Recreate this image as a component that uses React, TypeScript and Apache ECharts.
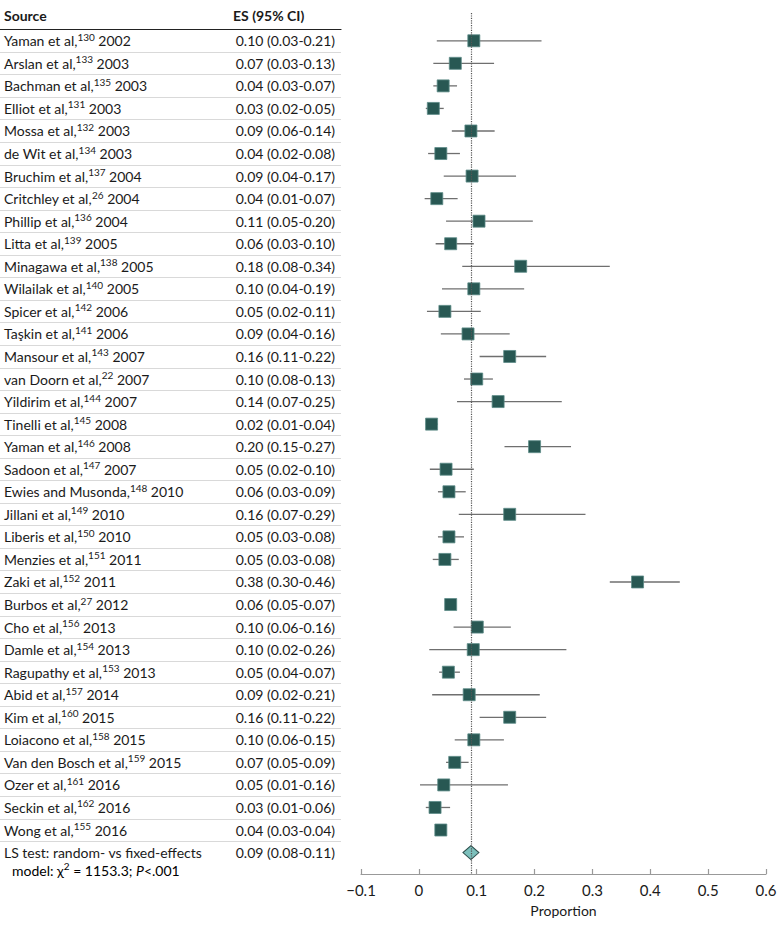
import React, { useEffect, useRef } from "react";
import * as echarts from "echarts";

const FONT = "Lato";

const authors = [
  "Yaman et al", "Arslan et al", "Bachman et al", "Elliot et al", "Mossa et al", "de Wit et al",
  "Bruchim et al", "Critchley et al", "Phillip et al", "Litta et al", "Minagawa et al", "Wilailak et al",
  "Spicer et al", "Taşkin et al", "Mansour et al", "van Doorn et al", "Yildirim et al", "Tinelli et al",
  "Yaman et al", "Sadoon et al", "Ewies and Musonda", "Jillani et al", "Liberis et al", "Menzies et al",
  "Zaki et al", "Burbos et al", "Cho et al", "Damle et al", "Ragupathy et al", "Abid et al",
  "Kim et al", "Loiacono et al", "Van den Bosch et al", "Ozer et al", "Seckin et al", "Wong et al",
];
const refs = [
  130, 133, 135, 131, 132, 134, 137, 26, 136, 139, 138, 140, 142, 141, 143, 22, 144, 145,
  146, 147, 148, 149, 150, 151, 152, 27, 156, 154, 153, 157, 160, 158, 159, 161, 162, 155,
];
const years = [
  2002, 2003, 2003, 2003, 2003, 2003, 2004, 2004, 2004, 2005, 2005, 2005, 2006, 2006, 2007, 2007, 2007, 2008,
  2008, 2007, 2010, 2010, 2010, 2011, 2011, 2012, 2013, 2013, 2013, 2014, 2015, 2015, 2015, 2016, 2016, 2016,
];
// printed effect sizes (ES column)
const esPrinted = [
  0.10, 0.07, 0.04, 0.03, 0.09, 0.04, 0.09, 0.04, 0.11, 0.06, 0.18, 0.10, 0.05, 0.09, 0.16, 0.10, 0.14, 0.02,
  0.20, 0.05, 0.06, 0.16, 0.05, 0.05, 0.38, 0.06, 0.10, 0.10, 0.05, 0.09, 0.16, 0.10, 0.07, 0.05, 0.03, 0.04,
];
const loPrinted = [
  0.03, 0.03, 0.03, 0.02, 0.06, 0.02, 0.04, 0.01, 0.05, 0.03, 0.08, 0.04, 0.02, 0.04, 0.11, 0.08, 0.07, 0.01,
  0.15, 0.02, 0.03, 0.07, 0.03, 0.03, 0.30, 0.05, 0.06, 0.02, 0.04, 0.02, 0.11, 0.06, 0.05, 0.01, 0.01, 0.03,
];
const hiPrinted = [
  0.21, 0.13, 0.07, 0.05, 0.14, 0.08, 0.17, 0.07, 0.20, 0.10, 0.34, 0.19, 0.11, 0.16, 0.22, 0.13, 0.25, 0.04,
  0.27, 0.10, 0.09, 0.29, 0.08, 0.08, 0.46, 0.07, 0.16, 0.26, 0.07, 0.21, 0.22, 0.15, 0.09, 0.16, 0.06, 0.04,
];
// plotted values
const pointEst = [
  0.095, 0.063, 0.042, 0.025, 0.09, 0.038, 0.092, 0.031, 0.104, 0.055, 0.176, 0.095, 0.045, 0.085, 0.157, 0.10, 0.137, 0.022,
  0.20, 0.047, 0.052, 0.157, 0.052, 0.045, 0.378, 0.055, 0.101, 0.094, 0.051, 0.087, 0.157, 0.095, 0.062, 0.043, 0.028, 0.038,
];
const ciLow = [
  0.031, 0.025, 0.025, 0.012, 0.057, 0.016, 0.043, 0.01, 0.047, 0.029, 0.075, 0.04, 0.014, 0.038, 0.105, 0.078, 0.066, 0.012,
  0.148, 0.019, 0.033, 0.069, 0.033, 0.024, 0.33, 0.05, 0.06, 0.018, 0.035, 0.023, 0.105, 0.062, 0.047, 0.002, 0.012, 0.03,
];
const ciHigh = [
  0.212, 0.13, 0.066, 0.043, 0.131, 0.071, 0.168, 0.067, 0.197, 0.095, 0.33, 0.182, 0.107, 0.157, 0.22, 0.128, 0.247, 0.033,
  0.263, 0.095, 0.081, 0.288, 0.078, 0.069, 0.451, 0.06, 0.159, 0.255, 0.071, 0.209, 0.22, 0.147, 0.086, 0.154, 0.054, 0.043,
];
const summaryLabel = "LS test: random- vs fixed-effects";
const summaryES = 0.09;
const summaryLo = 0.08;
const summaryHi = 0.11;
const xMin = -0.1;
const xMax = 0.6;
const xStep = 0.1;

const fmtES = (e: number, l: number, h: number) => `${e.toFixed(2)} (${l.toFixed(2)}-${h.toFixed(2)})`;

export default function App() {
  const ref = useRef<HTMLDivElement>(null);
  useEffect(() => {
    document.body.style.margin = "0";
    const chart = echarts.init(ref.current!, null, { renderer: "svg" });
    const n = authors.length;
    const cats = [...authors.map((_, i) => "r" + i), "summary"];
    const rowH = 22.55;
    const tableTop = 29.5;
    const plotTop = 13;
    const plotBottomPx = 874;
    const yMin = (plotTop - tableTop) / rowH - 0.5;
    const yMax = (plotBottomPx - tableTop) / rowH - 0.5;
    const textColor = "#1a1a1a";
    const rich = {
      n: { fontSize: 14, lineHeight: 18, color: textColor, fontFamily: FONT },
      s: { fontSize: 10, lineHeight: 9, verticalAlign: "top", color: textColor, fontFamily: FONT },
      i: { fontSize: 14, lineHeight: 18, color: textColor, fontFamily: FONT, fontStyle: "italic" },
    };

    const option: any = {
      animation: false,
      backgroundColor: "#fff",
      textStyle: { fontFamily: FONT },
      grid: [
        { left: 361, right: 14, top: plotTop, bottom: 928 - plotBottomPx },
        { left: 0, width: 341, top: tableTop, height: rowH * (n + 1) },
      ],
      xAxis: [
        {
          gridIndex: 0,
          type: "value",
          min: xMin,
          max: xMax,
          interval: xStep,
          position: "bottom",
          axisLine: { show: true, onZero: false, lineStyle: { color: "#999", width: 1.2 } },
          axisTick: { show: true, inside: true, length: 5, lineStyle: { color: "#999", width: 1.2 } },
          splitLine: { show: false },
          axisLabel: {
            color: textColor,
            fontSize: 15,
            fontFamily: FONT,
            margin: 8,
            formatter: (v: number) => {
              const r = Math.round(v * 10) / 10;
              if (r === 0) return "0";
              return (r < 0 ? "\u2212" : "") + Math.abs(r).toFixed(1);
            },
          },
          name: "Proportion",
          nameLocation: "middle",
          nameGap: 29,
          nameTextStyle: { color: textColor, fontSize: 14, fontFamily: FONT },
        },
        {
          gridIndex: 1,
          type: "value",
          min: 0,
          max: 1,
          position: "top",
          axisLine: { show: true, onZero: false, lineStyle: { color: "#222", width: 1.2 } },
          axisTick: { show: false },
          axisLabel: { show: false },
          splitLine: { show: false },
        },
      ],
      yAxis: [
        { gridIndex: 0, type: "value", min: yMin, max: yMax, inverse: true, show: false },
        {
          gridIndex: 1,
          type: "category",
          data: cats,
          inverse: true,
          position: "left",
          axisLine: { show: false },
          axisTick: { show: false },
          axisLabel: {
            inside: true,
            margin: 4,
            interval: 0,
            rich,
            formatter: (_v: string, idx: number) =>
              idx < n ? `{n|${authors[idx]},}{s|${refs[idx]}}{n| ${years[idx]}}` : `{n|${summaryLabel}}`,
          },
          splitLine: { show: true, showMinLine: false, showMaxLine: false, interval: 0, lineStyle: { color: "#d9d9d9", width: 1 } },
        },
        {
          gridIndex: 1,
          type: "category",
          data: cats,
          inverse: true,
          position: "right",
          axisLine: { show: false },
          axisTick: { show: false },
          splitLine: { show: false },
          axisLabel: {
            inside: true,
            margin: 6,
            interval: 0,
            color: textColor,
            fontSize: 14,
            fontFamily: FONT,
            formatter: (_v: string, idx: number) =>
              idx < n ? fmtES(esPrinted[idx], loPrinted[idx], hiPrinted[idx]) : fmtES(summaryES, summaryLo, summaryHi),
          },
        },
      ],
      series: [
        {
          type: "custom",
          xAxisIndex: 0,
          yAxisIndex: 0,
          z: 2,
          data: ciLow.map((l, i) => [l, ciHigh[i], i]),
          encode: { x: [0, 1], y: 2 },
          renderItem: (_p: any, api: any) => {
            const a = api.coord([api.value(0), api.value(2)]);
            const b = api.coord([api.value(1), api.value(2)]);
            return {
              type: "line",
              shape: { x1: a[0], y1: a[1], x2: b[0], y2: b[1] },
              style: { stroke: "#6f6f6f", lineWidth: 1.3 },
            };
          },
          markLine: {
            silent: true,
            symbol: "none",
            label: { show: false },
            lineStyle: { type: "dotted", color: "#555", width: 1.2 },
            data: [{ xAxis: summaryES }],
          },
        },
        {
          type: "scatter",
          xAxisIndex: 0,
          yAxisIndex: 0,
          z: 3,
          symbol: "rect",
          symbolSize: 12,
          itemStyle: { color: "#285853", borderColor: "#5d8c88", borderWidth: 0.8, opacity: 1 },
          data: pointEst.map((v, i) => [v, i]),
        },
        {
          type: "scatter",
          xAxisIndex: 0,
          yAxisIndex: 0,
          z: 4,
          symbol: "diamond",
          symbolSize: [16, 14],
          itemStyle: { color: "#7cc0bc", borderColor: "#2f4f4d", borderWidth: 1, opacity: 1 },
          data: [[summaryES, n]],
        },
      ],
      graphic: [
        {
          type: "text",
          x: 4,
          y: 15,
          style: { text: "Source", fill: textColor, font: `bold 14px ${FONT}`, verticalAlign: "middle", align: "left" },
        },
        {
          type: "text",
          x: 233,
          y: 15,
          style: { text: "ES (95% CI)", fill: textColor, font: `bold 14px ${FONT}`, verticalAlign: "middle", align: "left" },
        },
        {
          type: "text",
          x: 12,
          y: 870,
          style: {
            text: "{n|model: χ}{s|2}{n| = 1153.3; }{i|P}{n|<.001}",
            rich,
            verticalAlign: "middle",
            align: "left",
          },
        },
      ],
    };
    chart.setOption(option);
    return () => chart.dispose();
  }, []);
  return <div ref={ref} style={{ width: 780, height: 928 }} />;
}
